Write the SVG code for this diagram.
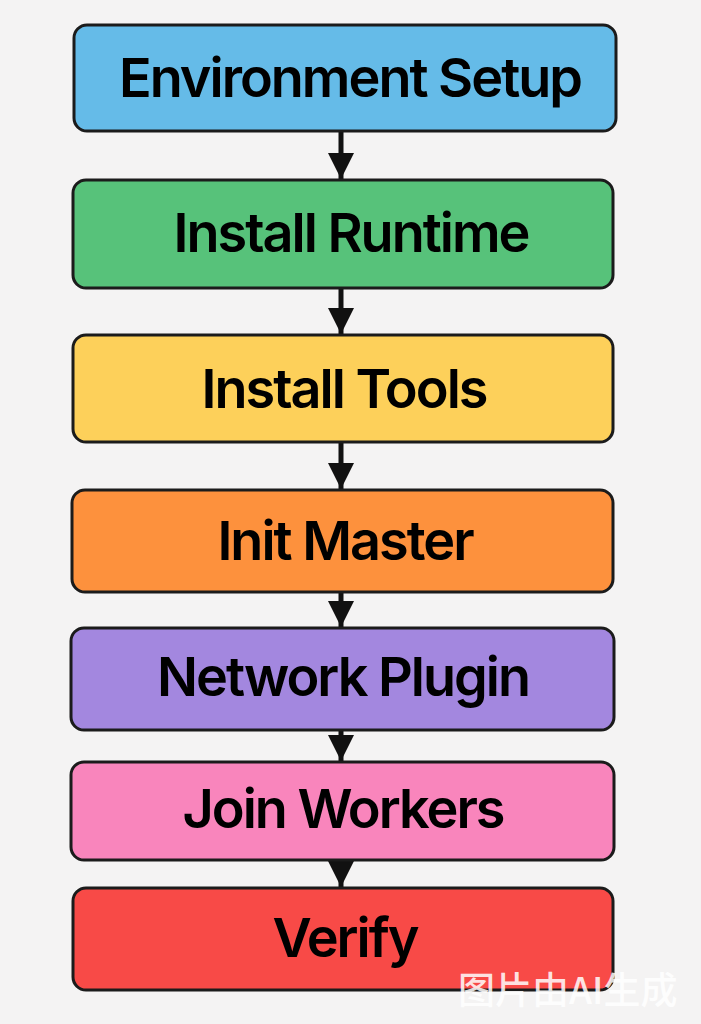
<svg xmlns="http://www.w3.org/2000/svg" width="701" height="1024" viewBox="0 0 701 1024">
<defs>
<style>
.box{stroke:#1b1b1b;stroke-width:3}
.lbl{font-family:Inter,"Noto Sans","Liberation Sans",sans-serif;font-weight:600;font-size:54px;letter-spacing:-2px;fill:#000;text-anchor:middle}
.conn{stroke:#111;stroke-width:5;fill:none}
.wm{font-family:"Noto Sans CJK SC","Noto Sans",sans-serif;font-weight:500;font-size:37px;fill:#fff;fill-opacity:0.85}
</style>
<marker id="ah" viewBox="0 0 10 10" refX="10" refY="5" markerWidth="5.2" markerHeight="5.2" markerUnits="strokeWidth" orient="auto">
<path d="M0,0 L10,5 L0,10 Z" fill="#111"/>
</marker>
</defs>
<rect width="701" height="1024" fill="#f4f3f3"/>
<g id="connectors">
<line class="conn" x1="341" y1="131" x2="341" y2="179" marker-end="url(#ah)"/>
<line class="conn" x1="341" y1="288" x2="341" y2="334" marker-end="url(#ah)"/>
<line class="conn" x1="341" y1="442" x2="341" y2="489" marker-end="url(#ah)"/>
<line class="conn" x1="341" y1="592" x2="341" y2="627" marker-end="url(#ah)"/>
<line class="conn" x1="341" y1="730" x2="341" y2="761" marker-end="url(#ah)"/>
<line class="conn" x1="341" y1="860" x2="341" y2="887" marker-end="url(#ah)"/>
</g>
<g id="n1"><rect class="box" x="74" y="25" width="542" height="106" rx="13" fill="#65bbe8"/><text class="lbl" x="350" y="97">Environment Setup</text></g>
<g id="n2"><rect class="box" x="73" y="180" width="540" height="108" rx="13" fill="#57c27a"/><text class="lbl" x="351" y="252">Install Runtime</text></g>
<g id="n3"><rect class="box" x="73" y="335" width="540" height="107" rx="13" fill="#fdd05a"/><text class="lbl" x="344" y="408">Install Tools</text></g>
<g id="n4"><rect class="box" x="72" y="490" width="541" height="102" rx="13" fill="#fd913d"/><text class="lbl" x="345" y="560">Init Master</text></g>
<g id="n5"><rect class="box" x="71" y="628" width="543" height="102" rx="13" fill="#a387df"/><text class="lbl" x="343" y="696">Network Plugin</text></g>
<g id="n6"><rect class="box" x="71" y="762" width="543" height="98" rx="13" fill="#f985bc"/><text class="lbl" x="343" y="828">Join Workers</text></g>
<g id="n7"><rect class="box" x="73" y="888" width="540" height="102" rx="13" fill="#f84a47"/><text class="lbl" x="345" y="957">Verify</text></g>
<text class="wm" x="458" y="1004">图片由AI生成</text>
</svg>
